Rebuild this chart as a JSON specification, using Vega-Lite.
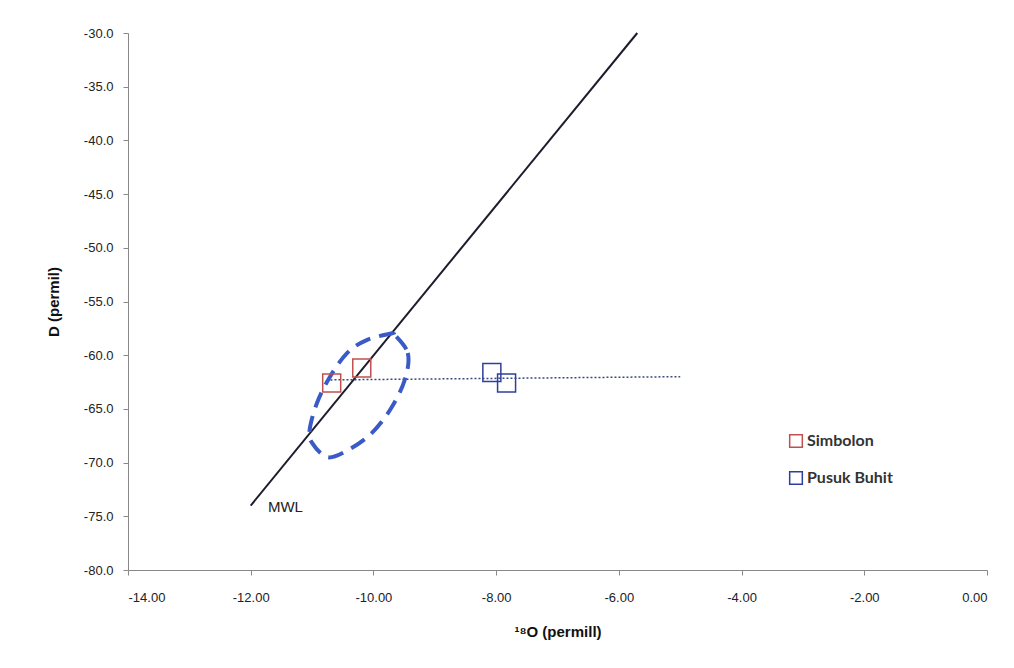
{
  "$schema": "https://vega.github.io/schema/vega-lite/v6.json",
  "autosize": {"type": "none"},
  "padding": {"left": 128, "top": 33, "right": 27, "bottom": 98},
  "width": 859,
  "height": 537,
  "background": "white",
  "config": {
    "view": {"stroke": null},
    "axis": {"grid": false, "domainColor": "#888", "tickColor": "#888", "labelColor": "#222", "titleColor": "#111", "labelFont": "Liberation Sans", "titleFont": "Liberation Sans", "labelFontSize": 13, "titleFontSize": 15}
  },
  "layer": [
    {
      "data": {"values": [{"x": -12, "y": -74}, {"x": -5.7, "y": -30}]},
      "mark": {"type": "line", "color": "#1c1c2c", "strokeWidth": 2},
      "encoding": {
        "x": {"field": "x", "type": "quantitative", "scale": {"domain": [-14, 0], "nice": false, "zero": false},
          "axis": {"title": "¹⁸O (permill)", "labelExpr": "replace(format(datum.value, '.2f'), '−', '-')", "values": [-14, -12, -10, -8, -6, -4, -2, 0], "tickSize": 5, "labelPadding": 16, "titlePadding": 20}},
        "y": {"field": "y", "type": "quantitative", "scale": {"domain": [-80, -30], "nice": false, "zero": false},
          "axis": {"title": "D (permil)", "labelExpr": "replace(format(datum.value, '.1f'), '−', '-')", "values": [-80, -75, -70, -65, -60, -55, -50, -45, -40, -35, -30], "tickSize": 5, "labelPadding": 10, "titlePadding": 22}}
      }
    },
    {
      "data": {"values": [{"x": -10.7, "y": -62.3}, {"x": -5.0, "y": -62.0}]},
      "mark": {"type": "line", "color": "#3a4a7a", "strokeWidth": 1.5, "strokeDash": [2, 2]},
      "encoding": {"x": {"field": "x", "type": "quantitative"}, "y": {"field": "y", "type": "quantitative"}}
    },
    {
      "data": {"values": [
        {"o": 0, "x": -9.68, "y": -57.93},
        {"o": 1, "x": -9.44, "y": -59.8},
        {"o": 2, "x": -9.49, "y": -62.31},
        {"o": 3, "x": -9.73, "y": -65.1},
        {"o": 4, "x": -10.06, "y": -67.43},
        {"o": 5, "x": -10.47, "y": -69.01},
        {"o": 6, "x": -10.76, "y": -69.48},
        {"o": 7, "x": -11.0, "y": -68.17},
        {"o": 8, "x": -11.04, "y": -66.96},
        {"o": 9, "x": -10.92, "y": -64.45},
        {"o": 10, "x": -10.71, "y": -62.03},
        {"o": 11, "x": -10.43, "y": -59.8},
        {"o": 12, "x": -10.11, "y": -58.59},
        {"o": 13, "x": -9.68, "y": -57.93}
      ]},
      "mark": {"type": "line", "color": "#3a5bc7", "strokeWidth": 4, "strokeDash": [16, 9], "interpolate": "cardinal-closed"},
      "encoding": {"x": {"field": "x", "type": "quantitative"}, "y": {"field": "y", "type": "quantitative"}, "order": {"field": "o", "type": "quantitative"}}
    },
    {
      "data": {"values": [
        {"site": "Simbolon", "x": -10.68, "y": -62.6},
        {"site": "Simbolon", "x": -10.19, "y": -61.2},
        {"site": "Pusuk Buhit", "x": -8.07, "y": -61.6},
        {"site": "Pusuk Buhit", "x": -7.83, "y": -62.6}
      ]},
      "mark": {"type": "point", "shape": "square", "filled": false, "size": 324, "strokeWidth": 1.5, "opacity": 1},
      "encoding": {
        "x": {"field": "x", "type": "quantitative"},
        "y": {"field": "y", "type": "quantitative"},
        "color": {"field": "site", "type": "nominal", "scale": {"domain": ["Simbolon", "Pusuk Buhit"], "range": ["#c0504d", "#2f3f9f"]},
          "legend": {"title": null, "orient": "none", "legendX": 660, "legendY": 400, "symbolType": "square", "symbolSize": 160, "symbolStrokeWidth": 1.5, "rowPadding": 17, "labelFont": "Lato", "labelFontWeight": "bold", "labelFontSize": 16, "labelColor": "#333", "labelOffset": 3}}
      }
    },
    {
      "data": {"values": [{"x": -11.72, "y": -74.1, "t": "MWL"}]},
      "mark": {"type": "text", "align": "left", "baseline": "middle", "font": "Liberation Sans", "fontSize": 15, "color": "#222"},
      "encoding": {"x": {"field": "x", "type": "quantitative"}, "y": {"field": "y", "type": "quantitative"}, "text": {"field": "t"}}
    }
  ]
}
